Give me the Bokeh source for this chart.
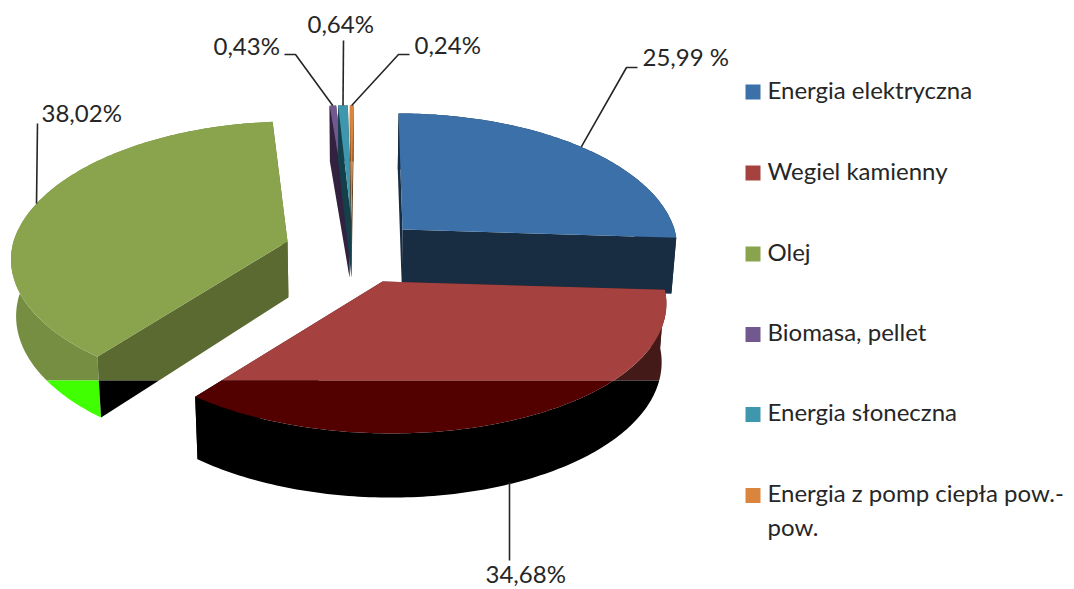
import math
from bokeh.plotting import figure
from bokeh.models import Range1d, ColumnDataSource
from bokeh.core.properties import value
from bokeh.embed import file_html
from bokeh.resources import INLINE

categories = ["Energia elektryczna", "Wegiel kamienny", "Olej", "Biomasa, pellet",
              "Energia słoneczna", "Energia z pomp ciepła pow.-\npow."]
shares = [25.99, 34.68, 38.02, 0.43, 0.64, 0.24]
share_labels = ["25,99 %", "34,68%", "38,02%", "0,43%", "0,64%", "0,24%"]

top_colors = ["#3b70a8", "#a54240", "#89a44d", "#71588f", "#3f97ae", "#db843d"]
radial_colors = ["#182c42", "#431a18", "#5a6a30", "#32213f", "#14404c", "#5a3414"]
outer_colors = ["#182c42", "#431a18", "#758e42", "#32213f", "#14404c", "#5a3414"]
top_low = ["#3b70a8", "#530000", "#89a44d", "#71588f", "#3f97ae", "#db843d"]
radial_low = ["#000000", "#000000", "#000000", "#32213f", "#14404c", "#5a3414"]
outer_low = ["#000000", "#000000", "#40ff00", "#32213f", "#14404c", "#5a3414"]
text_color = "#262626"

# projection / explode layout
apex_x = [402, 382, 287, 349, 351, 351]
apex_y = [229, 281, 241, 221, 221, 221]
wedge_rx = [272, 280, 274, 274, 274, 274]
shear_back = [-4, 0, 5, 0, 0, 2]
shear_front = [0, -9, 0, 0, 0, 0]
lift_back = [0, 0, 4, 0, 0, 0]
RY, PERSP = 131.6, 0.134
CUT_Y = 380

leader_tail = [[(626, 67), (637, 67)], [(509, 560)], [(37, 123)],
               [(295, 54), (284, 54)], [(343, 40)], [(398, 54), (409, 54)]]
label_x = [642, 485, 41, 213, 307, 414]
label_y = [56, 573, 112, 45, 23, 44]
legend_y = [91.5, 172.5, 253.5, 334, 414, 495]
legend_text_y = [89, 170, 251, 331, 411, 492]
wrap_y = 526


def project(t, i):
    X, Y = math.sin(t), math.cos(t)
    f = 1 / (1 + PERSP * Y)
    return (apex_x[i] + wedge_rx[i] * X * f + shear_back[i] * max(Y, 0) + shear_front[i] * min(Y, 0),
            apex_y[i] - RY * Y * f - lift_back[i] * max(Y, 0))


def drop(pt):
    x, y = pt
    return (x + (350 - x) * 0.015, y + 56 + 8 * max(0, y - 240) / 190)


def clip(poly, keep_above):
    inside = (lambda p: p[1] <= CUT_Y) if keep_above else (lambda p: p[1] >= CUT_Y)
    out = []
    for k, cur in enumerate(poly):
        prev = poly[k - 1]
        if inside(cur) != inside(prev):
            s = (CUT_Y - prev[1]) / (cur[1] - prev[1])
            out.append((prev[0] + s * (cur[0] - prev[0]), CUT_Y))
        if inside(cur):
            out.append(cur)
    return out


xs, ys, fills = [], [], []


def add(poly, upper, lower):
    for keep, col in ((True, upper), (False, lower)):
        c = clip(poly, keep)
        if len(c) >= 3:
            xs.append([p[0] for p in c])
            ys.append([p[1] for p in c])
            fills.append(col)


total = sum(shares)
start = 0.0
mids = []
wedges = []
for i, s in enumerate(shares):
    a0 = start / total * 2 * math.pi
    a1 = (start + s) / total * 2 * math.pi
    start += s
    mids.append((a0 + a1) / 2)
    wedges.append((a0, a1))

for i in [0, 3, 4, 5, 2, 1]:
    a0, a1 = wedges[i]
    n = max(4, int((a1 - a0) * 60))
    arc = [project(a0 + (a1 - a0) * k / n, i) for k in range(n + 1)]
    apex = (apex_x[i], apex_y[i])
    add(arc + [drop(p) for p in reversed(arc)], outer_colors[i], outer_low[i])
    add([apex, arc[0], drop(arc[0]), drop(apex)], radial_colors[i], radial_low[i])
    add([apex, arc[-1], drop(arc[-1]), drop(apex)], radial_colors[i], radial_low[i])
    add([apex] + arc, top_colors[i], top_low[i])

p = figure(width=1074, height=589, output_backend="svg", toolbar_location=None,
           x_range=Range1d(0, 1074), y_range=Range1d(589, 0), min_border=0)
p.axis.visible = False
p.grid.visible = False
p.outline_line_color = None
p.background_fill_color = "white"
p.border_fill_color = "white"

p.patches("xs", "ys", fill_color="fill", line_color=None,
          source=ColumnDataSource(dict(xs=xs, ys=ys, fill=fills)))

# leader lines
for i in range(len(shares)):
    st = project(mids[i], i)
    if i == 1:
        st = (leader_tail[i][0][0], drop(st)[1])
    pts = [st] + leader_tail[i]
    p.line([q[0] for q in pts], [q[1] for q in pts], line_color=text_color, line_width=1.6)

font = value("Lato")
p.text(label_x, label_y, text=share_labels, text_font=font, text_font_size="24px",
       text_color=text_color, text_baseline="middle", text_align="left")

# legend
p.rect([752.5] * 6, legend_y, width=15, height=15, fill_color=top_colors, line_color=None)
legend_lines = [c.split("\n")[0] for c in categories]
p.text([767] * 6, legend_text_y, text=legend_lines, text_font=font, text_font_size="24px",
       text_color=text_color, text_baseline="middle", text_align="left")
p.text([767], [wrap_y], text=[categories[5].split("\n")[1]], text_font=font, text_font_size="24px",
       text_color=text_color, text_baseline="middle", text_align="left")

open("out.html", "w").write(file_html(p, INLINE))
